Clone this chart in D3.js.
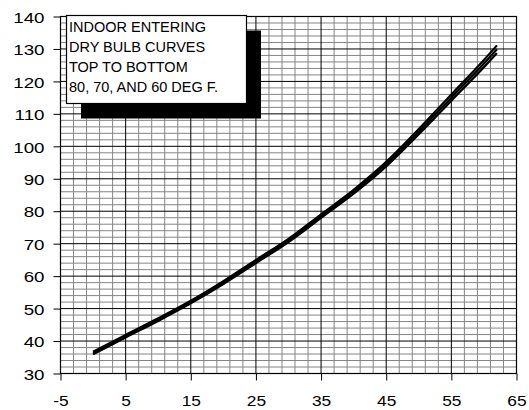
<!DOCTYPE html>
<html>
<head>
<meta charset="utf-8">
<script src="https://cdn.jsdelivr.net/npm/d3@7"></script>
<style>
  html, body { margin: 0; padding: 0; background: #fff; }
  svg { display: block; }
  text { font-family: "Liberation Sans", Arial, Helvetica, sans-serif; fill: #000; }
</style>
</head>
<body>
<svg id="chart" width="529" height="410"></svg>
<script>
// Outdoor temperature (x) against the plotted capacity value (y)
const outdoorTemps = [0, 5, 10, 15, 20, 25, 30, 35, 40, 45, 50, 55, 60, 62];
// One curve per indoor entering dry-bulb temperature
const curve80F = [36.7, 41.9, 47.0, 52.4, 58.45, 65.0, 71.5, 79.05, 86.6, 95.2, 105.3, 115.95, 126.6, 131.1];
const curve70F = [36.3, 41.5, 46.6, 52.0, 58.0, 64.5, 71.0, 78.5, 86.0, 94.5, 104.5, 115.0, 125.5, 129.9];
const curve60F = [35.9, 41.1, 46.2, 51.6, 57.55, 64.0, 70.5, 77.95, 85.4, 93.8, 103.7, 114.05, 124.4, 128.7];

const xTicks = [-5, 5, 15, 25, 35, 45, 55, 65];
const yTicks = [30, 40, 50, 60, 70, 80, 90, 100, 110, 120, 130, 140];
const noteLines = ["INDOOR ENTERING", "DRY BULB CURVES", "TOP TO BOTTOM", "80, 70, AND 60 DEG F."];

const svg = d3.select("#chart");
svg.append("rect").attr("width", 529).attr("height", 410).attr("fill", "#fff");

const x = d3.scaleLinear().domain([-5, 65]).range([60.5, 516.5]);
const y = d3.scaleLinear().domain([30, 140]).range([373.5, 16.5]);

// fine grid every 2 units
const grid = svg.append("g");
const minorX = d3.range(-5, 65.001, 2).filter(v => !xTicks.includes(v));
const minorY = d3.range(30, 140.001, 2).filter(v => !yTicks.includes(v));
grid.selectAll("line.mx").data(minorX).join("line")
  .attr("x1", d => x(d)).attr("x2", d => x(d))
  .attr("y1", y(30)).attr("y2", y(140))
  .attr("stroke", "#858585").attr("stroke-width", 1);
grid.selectAll("line.my").data(minorY).join("line")
  .attr("y1", d => y(d)).attr("y2", d => y(d))
  .attr("x1", x(-5)).attr("x2", x(65))
  .attr("stroke", "#858585").attr("stroke-width", 1);
// major grid every 10 units
grid.selectAll("line.Mx").data(xTicks).join("line")
  .attr("x1", d => x(d)).attr("x2", d => x(d))
  .attr("y1", y(30)).attr("y2", y(140))
  .attr("stroke", "#000").attr("stroke-width", 1);
grid.selectAll("line.My").data(yTicks).join("line")
  .attr("y1", d => y(d)).attr("y2", d => y(d))
  .attr("x1", x(-5)).attr("x2", x(65))
  .attr("stroke", "#000").attr("stroke-width", 1);

// plot frame
svg.append("rect")
  .attr("x", x(-5)).attr("y", y(140))
  .attr("width", x(65) - x(-5)).attr("height", y(30) - y(140))
  .attr("fill", "none").attr("stroke", "#000").attr("stroke-width", 1.2);

// axes (plain hyphen for negative labels)
const fmt = d => String(d);
const yAxis = svg.append("g").attr("transform", `translate(${x(-5)},0)`)
  .call(d3.axisLeft(y).tickValues(yTicks).tickFormat(fmt).tickSize(7).tickSizeOuter(0));
const xAxis = svg.append("g").attr("transform", `translate(0,${y(30)})`)
  .call(d3.axisBottom(x).tickValues(xTicks).tickFormat(fmt).tickSize(7).tickSizeOuter(0));
[yAxis, xAxis].forEach(g => {
  g.select(".domain").remove();
  g.selectAll(".tick line").attr("stroke", "#000").attr("stroke-width", 1);
});
const ySx = 1.25, xSx = 1.12;
yAxis.selectAll(".tick text")
  .attr("font-size", 15).attr("x", -16 / ySx).attr("dy", "0.38em")
  .attr("transform", `scale(${ySx},1)`)
  .style("font-family", '"Liberation Sans", Arial, sans-serif').attr("fill", "#000");
xAxis.selectAll(".tick text")
  .attr("font-size", 15.5).attr("y", 32.5).attr("dy", 0)
  .attr("transform", `scale(${xSx},1)`)
  .style("font-family", '"Liberation Sans", Arial, sans-serif').attr("fill", "#000");

// performance curves
const line = d3.line()
  .x(d => x(d[0])).y(d => y(d[1]))
  .curve(d3.curveMonotoneX);
[curve80F, curve70F, curve60F].forEach(vals => {
  svg.append("path")
    .datum(outdoorTemps.map((t, i) => [t, vals[i]]))
    .attr("d", line)
    .attr("fill", "none").attr("stroke", "#000")
    .attr("stroke-width", 2.2).attr("stroke-linecap", "butt");
});

// note box with drop shadow
const note = svg.append("g");
note.append("rect").attr("x", 81).attr("y", 30.5).attr("width", 180).attr("height", 88).attr("fill", "#000");
note.append("rect").attr("x", 66.5).attr("y", 15.5).attr("width", 180).attr("height", 88)
  .attr("fill", "#fff").attr("stroke", "#000").attr("stroke-width", 1.2);
note.selectAll("text").data(noteLines).join("text")
  .attr("x", 69).attr("y", (d, i) => 31.7 + i * 20)
  .attr("font-size", 14.5)
  .text(d => d);
</script>
</body>
</html>
